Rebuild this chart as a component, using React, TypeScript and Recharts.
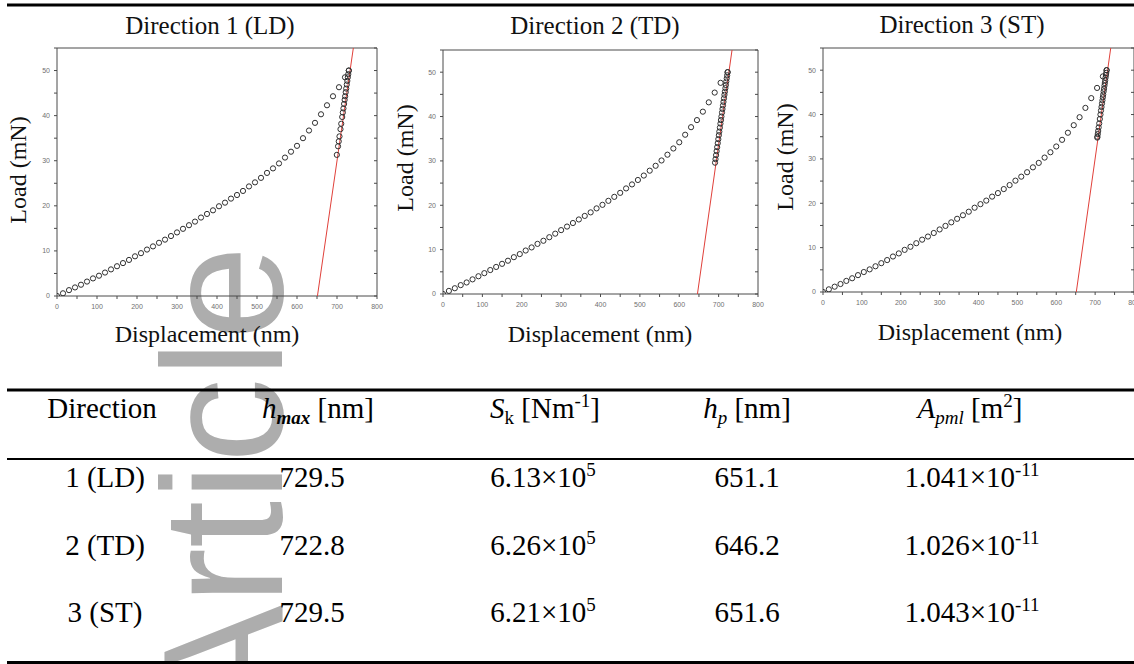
import React from 'react';
import { ScatterChart, Scatter, XAxis, YAxis, ReferenceLine } from 'recharts';

// loading branch, displacement (nm)
const loadingDisp = [
  0, 15, 30, 45, 60, 75, 90, 105, 120, 135, 150, 165, 180, 195, 210, 225, 240, 255, 270, 285,
  300, 315, 330, 345, 360, 375, 390, 405, 420, 435, 450, 465, 480, 495, 510, 525, 540, 555, 570, 585,
  600, 615, 630, 645, 660, 675, 690, 705, 720, 729.5,
];
const loadingDispTD = [
  0, 15, 30, 45, 60, 75, 90, 105, 120, 135, 150, 165, 180, 195, 210, 225, 240, 255, 270, 285,
  300, 315, 330, 345, 360, 375, 390, 405, 420, 435, 450, 465, 480, 495, 510, 525, 540, 555, 570, 585,
  600, 615, 630, 645, 660, 675, 690, 705, 722.8,
];

// loading branch, load (mN)
const loadLD = [
  0, 0.6, 1.3, 1.9, 2.5, 3.2, 3.9, 4.5, 5.2, 5.9, 6.6, 7.3, 8.0, 8.8, 9.5, 10.3, 11.0, 11.8, 12.5, 13.3,
  14.1, 14.9, 15.7, 16.5, 17.4, 18.2, 19.0, 19.9, 20.7, 21.6, 22.4, 23.3, 24.3, 25.2, 26.2, 27.3, 28.3, 29.4, 30.7, 32.0,
  33.3, 35.0, 36.7, 38.4, 40.3, 42.3, 44.3, 46.3, 48.5, 50.0,
];
const loadTD = [
  0, 0.7, 1.3, 2.0, 2.6, 3.3, 4.0, 4.7, 5.4, 6.1, 6.8, 7.5, 8.3, 9.0, 9.8, 10.5, 11.3, 12.0, 12.8, 13.6,
  14.4, 15.2, 16.0, 16.8, 17.6, 18.4, 19.3, 20.1, 21.0, 21.9, 22.8, 23.8, 24.7, 25.7, 26.7, 27.8, 28.9, 30.1, 31.4, 32.8,
  34.2, 35.9, 37.6, 39.2, 41.1, 43.2, 45.4, 47.6, 50.0,
];
const loadST = [
  0, 0.6, 1.2, 1.8, 2.5, 3.1, 3.8, 4.5, 5.1, 5.8, 6.5, 7.2, 8.0, 8.7, 9.5, 10.2, 11.0, 11.8, 12.5, 13.3,
  14.1, 14.9, 15.7, 16.5, 17.3, 18.1, 19.0, 19.8, 20.6, 21.5, 22.3, 23.2, 24.1, 25.1, 26.0, 27.0, 28.1, 29.1, 30.3, 31.5,
  32.8, 34.3, 35.9, 37.6, 39.4, 41.5, 43.7, 46.0, 48.6, 50.0,
];

// unloading branch
const unloadDispLD = [729.5, 728.2, 727.1, 725.8, 724.5, 723.1, 721.8, 720.4, 719.1, 717.7, 716.1, 714.6, 713.0, 710.6, 708.7, 706.2, 704.4, 702.6, 699.6];
const unloadLoadLD = [50.0, 49.2, 48.5, 47.7, 46.9, 46.0, 45.2, 44.3, 43.5, 42.6, 41.6, 40.7, 39.7, 38.2, 37.0, 35.4, 34.3, 33.2, 31.3];
const unloadDispTD = [722.8, 721.7, 720.6, 719.5, 718.3, 717.2, 715.9, 714.8, 713.6, 712.3, 711.1, 709.8, 708.6, 707.1, 705.9, 704.6, 703.2, 701.8, 700.6, 699.2, 697.8, 696.3, 694.9, 693.5, 692.1, 690.9];
const unloadLoadTD = [50.0, 49.3, 48.6, 47.9, 47.1, 46.4, 45.6, 44.9, 44.1, 43.3, 42.5, 41.7, 40.9, 40.0, 39.2, 38.4, 37.5, 36.6, 35.8, 34.9, 34.0, 33.1, 32.2, 31.3, 30.4, 29.6];
const unloadDispST = [729.5, 728.6, 727.8, 726.8, 725.9, 724.9, 724.0, 722.9, 721.9, 720.8, 719.9, 718.8, 717.7, 716.4, 715.1, 713.7, 712.1, 710.6, 709.1, 707.9, 706.8, 705.8, 705.5];
const unloadLoadST = [50.0, 49.4, 48.9, 48.3, 47.7, 47.1, 46.5, 45.8, 45.2, 44.5, 43.9, 43.2, 42.5, 41.7, 40.9, 40.0, 39.0, 38.0, 37.1, 36.3, 35.6, 35.0, 34.8];

// table
const directions = ['1 (LD)', '2 (TD)', '3 (ST)'];
const hMax = [729.5, 722.8, 729.5];
const stiffness = [6.13, 6.26, 6.21]; // x10^5 N/m
const hP = [651.1, 646.2, 651.6];
const aPml = [1.041, 1.026, 1.043]; // x10^-11 m^2

const xTicks = [0, 50, 100, 150, 200, 250, 300, 350, 400, 450, 500, 550, 600, 650, 700, 750, 800];
const yTicks = [0, 5, 10, 15, 20, 25, 30, 35, 40, 45, 50, 55];
const yMax = 55;

const AXIS = '#4a4a4a';
const SERIF = '"Liberation Serif", "Times New Roman", serif';

const pairs = (xs: number[], ys: number[]) => xs.map((h, i) => ({ h, p: ys[i] }));

const XTick = (props: any) => {
  const { x, y, payload } = props;
  if (payload.value % 100 !== 0) return <g />;
  return (
    <text x={x} y={y} dy="0.71em" textAnchor="middle" fontSize={7} fill="#707070" fontFamily="Liberation Sans, Arial">
      {payload.value}
    </text>
  );
};

const YTick = (props: any) => {
  const { x, y, payload } = props;
  if (payload.value % 10 !== 0 || payload.value === yMax) return <g />;
  return (
    <text x={x} y={y} dy="0.35em" textAnchor="end" fontSize={7} fill="#707070" fontFamily="Liberation Sans, Arial">
      {payload.value}
    </text>
  );
};

const Ring = (props: any) => (
  <circle cx={props.cx} cy={props.cy} r={2.6} fill="none" stroke="#303030" strokeWidth={1} />
);
const NoDot = () => <g />;

interface PanelProps {
  left: number;
  width: number;
  margin: { top: number; right: number; bottom: number; left: number };
  rightAxisWidth: number;
  loading: { h: number; p: number }[];
  unloading: { h: number; p: number }[];
  s: number;
  hp: number;
}

function Panel({ left, width, margin, rightAxisWidth, loading, unloading, s, hp }: PanelProps) {
  // tangent at the start of unloading, S in mN/nm
  const fit = [{ h: hp, p: 0 }, { h: hp + yMax / (s / 10), p: yMax }];
  return (
    <div style={{ position: 'absolute', left, top: 0 }}>
      <ScatterChart width={width} height={330} margin={margin}>
        <XAxis
          type="number" dataKey="h" domain={[0, 800]} ticks={xTicks} interval={0}
          height={20} stroke={AXIS} tickSize={3} tickMargin={5} tick={XTick} allowDataOverflow
        />
        <YAxis
          type="number" dataKey="p" domain={[0, yMax]} ticks={yTicks} interval={0}
          width={30} stroke={AXIS} tickSize={3} tickMargin={4} tick={YTick} allowDataOverflow
        />
        <YAxis
          yAxisId="right" orientation="right" type="number" domain={[0, yMax]} ticks={yTicks} interval={0}
          width={rightAxisWidth} stroke={AXIS} tickSize={3} mirror tick={NoDot} allowDataOverflow
        />
        <ReferenceLine y={yMax} stroke={AXIS} ifOverflow="extendDomain" />
        <Scatter data={fit} line={{ stroke: '#e0403a', strokeWidth: 1 }} shape={NoDot} isAnimationActive={false} />
        <Scatter data={loading} shape={Ring} isAnimationActive={false} />
        <Scatter data={unloading} shape={Ring} isAnimationActive={false} />
      </ScatterChart>
    </div>
  );
}

const sub = 19;

export default function App() {
  const rowY = [487, 555, 622];
  return (
    <div style={{ position: 'absolute', left: 0, top: 0, width: 1134, height: 664, background: '#fff', overflow: 'hidden' }}>
      <style>{'.recharts-surface{overflow:visible}'}</style>
      <svg width={1134} height={664} style={{ position: 'absolute', left: 0, top: 0 }}>
        <text
          transform="translate(282,718) rotate(-90)" fontSize={170} fill="#adadad"
          fontFamily="Liberation Sans, Arial, sans-serif"
        >
          Article
        </text>
      </svg>

      <Panel
        left={0} width={380} margin={{ top: 48, right: 3, bottom: 14, left: 27 }} rightAxisWidth={6}
        loading={pairs(loadingDisp, loadLD)} unloading={pairs(unloadDispLD, unloadLoadLD)}
        s={stiffness[0]} hp={hP[0]}
      />
      <Panel
        left={380} width={380} margin={{ top: 50, right: 2, bottom: 16, left: 33 }} rightAxisWidth={6}
        loading={pairs(loadingDispTD, loadTD)} unloading={pairs(unloadDispTD, unloadLoadTD)}
        s={stiffness[1]} hp={hP[1]}
      />
      <Panel
        left={760} width={374} margin={{ top: 48, right: 0, bottom: 18, left: 33 }} rightAxisWidth={2}
        loading={pairs(loadingDisp, loadST)} unloading={pairs(unloadDispST, unloadLoadST)}
        s={stiffness[2]} hp={hP[2]}
      />

      <svg width={1134} height={664} style={{ position: 'absolute', left: 0, top: 0, pointerEvents: 'none' }} fontFamily={SERIF} fill="#111">
        <line x1={7} x2={1134} y1={5} y2={5} stroke="#000" strokeWidth={3} />

        <text x={210} y={33.5} fontSize={25} textAnchor="middle">Direction 1 (LD)</text>
        <text x={595} y={33.5} fontSize={25} textAnchor="middle">Direction 2 (TD)</text>
        <text x={962} y={33} fontSize={25} textAnchor="middle">Direction 3 (ST)</text>

        <text x={207} y={342} fontSize={24} textAnchor="middle">Displacement (nm)</text>
        <text x={600} y={342} fontSize={24} textAnchor="middle">Displacement (nm)</text>
        <text x={970} y={340} fontSize={24} textAnchor="middle">Displacement (nm)</text>

        <text transform="translate(26,170) rotate(-90)" fontSize={24} textAnchor="middle">Load (mN)</text>
        <text transform="translate(413,158) rotate(-90)" fontSize={24} textAnchor="middle">Load (mN)</text>
        <text transform="translate(793,157) rotate(-90)" fontSize={24} textAnchor="middle">Load (mN)</text>

        <line x1={7} x2={1134} y1={390} y2={390} stroke="#000" strokeWidth={3} />
        <line x1={7} x2={1134} y1={459} y2={459} stroke="#000" strokeWidth={2} />
        <line x1={7} x2={1134} y1={662.5} y2={662.5} stroke="#000" strokeWidth={3} />

        <g fontSize={29} fill="#000">
          <text x={102} y={418} textAnchor="middle">Direction</text>
          <text x={318} y={418} textAnchor="middle">
            <tspan fontStyle="italic">h</tspan>
            <tspan fontStyle="italic" fontWeight="bold" fontSize={sub} dy={6}>max</tspan>
            <tspan dy={-6}> [nm]</tspan>
          </text>
          <text x={545} y={418} textAnchor="middle">
            <tspan fontStyle="italic">S</tspan>
            <tspan fontSize={sub} dy={6}>k</tspan>
            <tspan dy={-6}> [Nm</tspan>
            <tspan fontSize={sub} dy={-11}>-1</tspan>
            <tspan dy={11}>]</tspan>
          </text>
          <text x={747} y={418} textAnchor="middle">
            <tspan fontStyle="italic">h</tspan>
            <tspan fontStyle="italic" fontSize={sub} dy={6}>p</tspan>
            <tspan dy={-6}> [nm]</tspan>
          </text>
          <text x={970} y={418} textAnchor="middle">
            <tspan fontStyle="italic">A</tspan>
            <tspan fontStyle="italic" fontSize={sub} dy={6}>pml</tspan>
            <tspan dy={-6}> [m</tspan>
            <tspan fontSize={sub} dy={-11}>2</tspan>
            <tspan dy={11}>]</tspan>
          </text>

          {directions.map((d, i) => (
            <g key={d}>
              <text x={105} y={rowY[i]} textAnchor="middle">{d}</text>
              <text x={312} y={rowY[i]} textAnchor="middle">{hMax[i].toFixed(1)}</text>
              <text x={543} y={rowY[i]} textAnchor="middle">
                <tspan>{stiffness[i].toFixed(2)}×10</tspan>
                <tspan fontSize={sub} dy={-11}>5</tspan>
              </text>
              <text x={747} y={rowY[i]} textAnchor="middle">{hP[i].toFixed(1)}</text>
              <text x={972} y={rowY[i]} textAnchor="middle">
                <tspan>{aPml[i].toFixed(3)}×10</tspan>
                <tspan fontSize={sub} dy={-11}>-11</tspan>
              </text>
            </g>
          ))}
        </g>
      </svg>
    </div>
  );
}
